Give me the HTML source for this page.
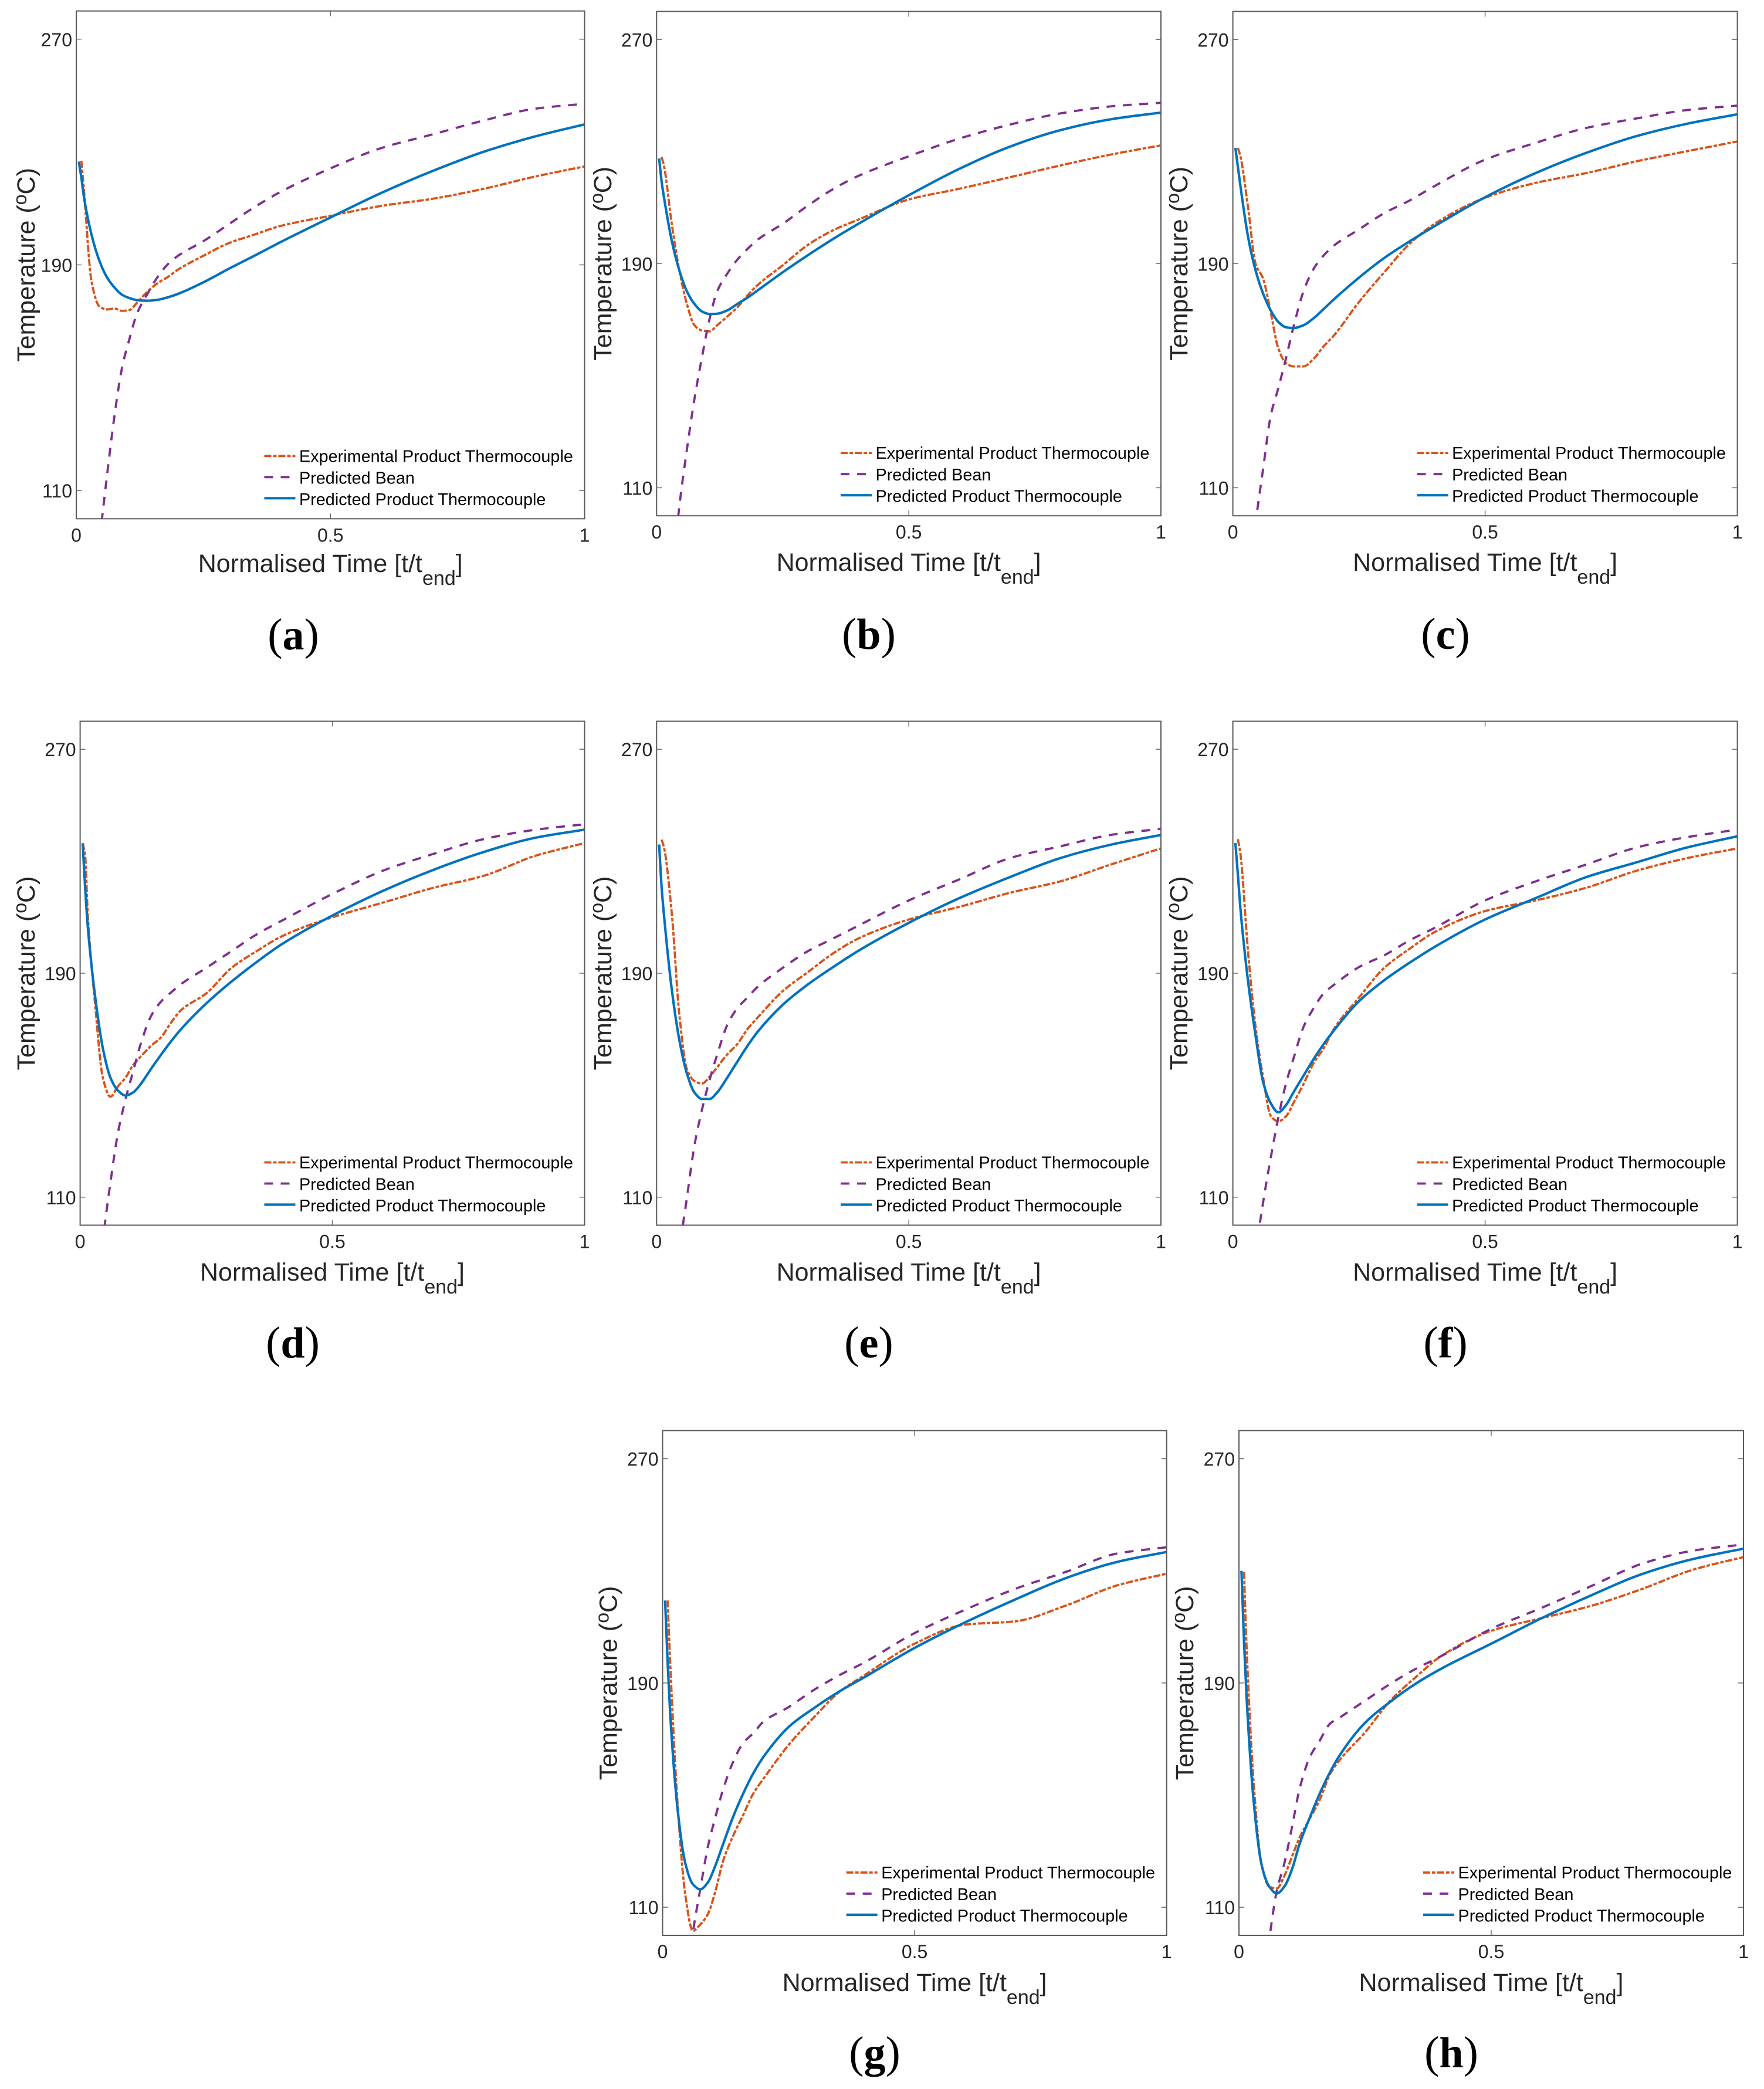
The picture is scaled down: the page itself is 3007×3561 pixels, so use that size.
<!DOCTYPE html>
<html lang="en">
<head>
<meta charset="utf-8">
<title>Temperature profiles, panels a to h</title>
<style>
html,body{margin:0;padding:0;background:#fff;}
svg{display:block;}
text{font-family:"Liberation Sans",Arial,sans-serif;}
.axis-title{font-size:43px;fill:#262626;text-anchor:middle;}
.legend-text{font-size:28.8px;fill:#000;}
.tick-label{font-size:32px;fill:#262626;}
.caption{font-family:"Liberation Serif",serif;font-size:76px;fill:#000;text-anchor:middle;}
.caption tspan.letter{font-weight:bold;font-size:74px;}
</style>
</head>
<body>
<svg id="figure" xmlns="http://www.w3.org/2000/svg" width="3007" height="3561" viewBox="0 0 3007 3561">
<defs id="clips"></defs>

<g id="panel-a">
<text class="axis-title" x="563.2" y="975">Normalised Time [t/t<tspan dy="22" font-size="34">end</tspan><tspan dy="-22">]</tspan></text>
<text class="axis-title" transform="translate(59,451.5) rotate(-90)">Temperature (<tspan dy="-14" font-size="32">o</tspan><tspan dy="14">C)</tspan></text>
<text class="legend-text" x="510" y="787.3">Experimental Product Thermocouple</text>
<text class="legend-text" x="510" y="824.3">Predicted Bean</text>
<text class="legend-text" x="510" y="860.8">Predicted Product Thermocouple</text>
<text class="caption" x="500" y="1107">(<tspan class="letter">a</tspan>)</text>
</g>

<g id="panel-b">
<text class="axis-title" x="1549.1" y="973">Normalised Time [t/t<tspan dy="22" font-size="34">end</tspan><tspan dy="-22">]</tspan></text>
<text class="axis-title" transform="translate(1041.8,449.3) rotate(-90)">Temperature (<tspan dy="-14" font-size="32">o</tspan><tspan dy="14">C)</tspan></text>
<text class="legend-text" x="1492.5" y="782.2">Experimental Product Thermocouple</text>
<text class="legend-text" x="1492.5" y="819.2">Predicted Bean</text>
<text class="legend-text" x="1492.5" y="855.7">Predicted Product Thermocouple</text>
<text class="caption" x="1481" y="1106">(<tspan class="letter">b</tspan>)</text>
</g>

<g id="panel-c">
<text class="axis-title" x="2531.6" y="973">Normalised Time [t/t<tspan dy="22" font-size="34">end</tspan><tspan dy="-22">]</tspan></text>
<text class="axis-title" transform="translate(2024,449.3) rotate(-90)">Temperature (<tspan dy="-14" font-size="32">o</tspan><tspan dy="14">C)</tspan></text>
<text class="legend-text" x="2475.1" y="782.2">Experimental Product Thermocouple</text>
<text class="legend-text" x="2475.1" y="819.2">Predicted Bean</text>
<text class="legend-text" x="2475.1" y="855.7">Predicted Product Thermocouple</text>
<text class="caption" x="2464" y="1106">(<tspan class="letter">c</tspan>)</text>
</g>

<g id="panel-d">
<text class="axis-title" x="566.5" y="2183">Normalised Time [t/t<tspan dy="22" font-size="34">end</tspan><tspan dy="-22">]</tspan></text>
<text class="axis-title" transform="translate(59,1659) rotate(-90)">Temperature (<tspan dy="-14" font-size="32">o</tspan><tspan dy="14">C)</tspan></text>
<text class="legend-text" x="510" y="1991.5">Experimental Product Thermocouple</text>
<text class="legend-text" x="510" y="2028.5">Predicted Bean</text>
<text class="legend-text" x="510" y="2065">Predicted Product Thermocouple</text>
<text class="caption" x="499" y="2314">(<tspan class="letter">d</tspan>)</text>
</g>

<g id="panel-e">
<text class="axis-title" x="1549.1" y="2183">Normalised Time [t/t<tspan dy="22" font-size="34">end</tspan><tspan dy="-22">]</tspan></text>
<text class="axis-title" transform="translate(1041.8,1659) rotate(-90)">Temperature (<tspan dy="-14" font-size="32">o</tspan><tspan dy="14">C)</tspan></text>
<text class="legend-text" x="1492.5" y="1991.5">Experimental Product Thermocouple</text>
<text class="legend-text" x="1492.5" y="2028.5">Predicted Bean</text>
<text class="legend-text" x="1492.5" y="2065">Predicted Product Thermocouple</text>
<text class="caption" x="1481" y="2314">(<tspan class="letter">e</tspan>)</text>
</g>

<g id="panel-f">
<text class="axis-title" x="2531.6" y="2183">Normalised Time [t/t<tspan dy="22" font-size="34">end</tspan><tspan dy="-22">]</tspan></text>
<text class="axis-title" transform="translate(2024,1659) rotate(-90)">Temperature (<tspan dy="-14" font-size="32">o</tspan><tspan dy="14">C)</tspan></text>
<text class="legend-text" x="2475.1" y="1991.5">Experimental Product Thermocouple</text>
<text class="legend-text" x="2475.1" y="2028.5">Predicted Bean</text>
<text class="legend-text" x="2475.1" y="2065">Predicted Product Thermocouple</text>
<text class="caption" x="2464" y="2314">(<tspan class="letter">f</tspan>)</text>
</g>

<g id="panel-g">
<text class="axis-title" x="1559.1" y="3394">Normalised Time [t/t<tspan dy="22" font-size="34">end</tspan><tspan dy="-22">]</tspan></text>
<text class="axis-title" transform="translate(1051.5,2869) rotate(-90)">Temperature (<tspan dy="-14" font-size="32">o</tspan><tspan dy="14">C)</tspan></text>
<text class="legend-text" x="1502.2" y="3202">Experimental Product Thermocouple</text>
<text class="legend-text" x="1502.2" y="3239">Predicted Bean</text>
<text class="legend-text" x="1502.2" y="3275.5">Predicted Product Thermocouple</text>
<text class="caption" x="1491" y="3524">(<tspan class="letter">g</tspan>)</text>
</g>

<g id="panel-h">
<text class="axis-title" x="2542" y="3394">Normalised Time [t/t<tspan dy="22" font-size="34">end</tspan><tspan dy="-22">]</tspan></text>
<text class="axis-title" transform="translate(2034,2869) rotate(-90)">Temperature (<tspan dy="-14" font-size="32">o</tspan><tspan dy="14">C)</tspan></text>
<text class="legend-text" x="2485.5" y="3202">Experimental Product Thermocouple</text>
<text class="legend-text" x="2485.5" y="3239">Predicted Bean</text>
<text class="legend-text" x="2485.5" y="3275.5">Predicted Product Thermocouple</text>
<text class="caption" x="2474" y="3524">(<tspan class="letter">h</tspan>)</text>
</g>
</svg>

<script>
// ---- chart data: normalised time grid, tick labels, temperature series (deg C) ----
const timeGrid = [.005,.01,.015,.03,.045,.06,.075,.09,.105,.12,.14,.16,.18,.2,.25,.3,.35,.4,.5,.6,.7,.8,.9,1];
const xTickValues = [0, 0.5, 1];
const xTickLabels = ["0", "0.5", "1"];
const yTickValues = [110, 190, 270];
const yTickLabels = ["110", "190", "270"];
const xDomain = [0, 1];
const yDomain = [100, 280];

const expA = [null,226.9,216.7,184.2,175.4,174.2,174.5,173.7,174,176.7,180.5,183.5,185.7,188.3,193.2,197.7,200.7,203.7,207.4,210.9,213.4,216.9,221.2,224.9];
const beanA = [null,null,null,70,91.4,114.6,136.3,153.5,164,173,179.7,185.7,190.2,193.2,198.4,204.4,210.4,215.7,224.2,231.4,236.2,241.1,245.3,247.1];
const fitA = [226.6,220.9,214.2,200.7,191.7,185.7,182,179.4,178.2,177.5,177.3,177.6,178.5,179.7,183.8,188.6,193.2,197.9,206.8,215.5,223.2,230,235.4,239.8];

const expB = [null,228,224.5,204.2,187.6,175.6,168,166.1,165.8,168,171.1,174.4,178.6,182.3,189.4,196.7,201.9,205.7,212.9,216.7,220.8,225,228.9,232.2];
const beanB = [null,null,null,76.2,103.3,123.6,141.7,156.7,170.3,180.1,186.4,191.4,195.2,198.5,204.2,210.7,216.6,221.3,228.3,234.6,239.6,243.6,246.1,247.4];
const fitB = [227.5,219.2,213.2,198.2,187.6,180.1,175.6,172.9,172,172.1,173.3,175.6,177.8,180.4,186.9,193,198.8,204.2,214.4,223.8,231.7,237.6,241.5,243.9];

const expC = [null,231.3,228.3,210.2,189.9,184.6,172.6,159.8,154.5,153.3,153.3,156,160.5,164.3,176.3,186.9,197,204.2,213.5,218.8,222.3,226.5,230.1,233.6];
const beanC = [null,null,null,73,97.3,116.8,135.7,145.5,156,167.3,180.1,188.1,192.9,196.4,202.2,208,212.5,217.7,227.1,233.1,238.4,241.8,244.8,246.4];
const fitC = [231.3,224.5,217.7,199.7,187.6,179.3,173.3,169.2,167.3,167,168,170.5,173.8,177.2,185,192,197.9,203.4,213.7,222.3,229.5,235.5,239.9,243.3];

const expD = [236.5,231.8,211.5,178.3,152.7,145.9,149.6,152.7,157.2,160.2,164,167,172.3,176.8,182.8,191.9,197.9,203.2,210,215.2,220.5,224.8,231.8,236.5];
const beanD = [null,null,null,69.7,94.6,115.2,133,145,154.9,164.7,174.5,179.8,183.1,186.1,191.9,197.9,203.9,208.8,218.3,226.6,232.6,237.9,241.2,243.2];
const fitD = [236.4,220.5,207,181.3,163.2,152.7,148.1,146.3,147.4,150.4,155.7,160.8,165.6,170,179.2,187,194,200.4,210.6,219.4,226.9,233.3,238.3,241.3];

const expE = [null,237.7,234.6,211.5,175.3,155.7,151.5,150.6,153,156.4,161,164.7,170,174.1,183.6,190.4,197.1,202.4,209.2,213.7,218.7,222.8,228.8,234.6];
const beanE = [null,null,null,65,90.8,109.7,128.5,141.3,151.9,160.9,171.5,177.5,181.3,185.1,191.9,197.9,202.4,207,216,223.5,231.1,235.3,239.4,241.6];
const fitE = [236,220.5,210,184.3,166.2,154.2,147.4,145.1,145.1,147.4,152.7,158.4,164,169,178.7,186,192.2,198,208,216.8,224.3,231.1,235.9,239.4];

const expF = [null,237.9,232.6,197.9,170.8,152.7,139.1,137.1,138.8,143.6,150.4,157.9,163.2,170,181.3,191.9,198.7,204.7,212.2,216,220.5,226.6,231.1,234.6];
const beanF = [null,null,null,60,89.3,108.2,124,138.3,150.4,159.4,170.8,177.5,182.8,185.8,192.2,196.4,201.7,206.2,216,222.8,228.8,234.9,238.6,241.3];
const fitF = [236.5,225.1,213,187.3,167.7,151.1,143.6,140.3,142.8,147.4,153.4,159.3,164.7,169.5,180,187.5,193.7,199.4,209.2,216.8,224.3,229.6,234.9,238.9];

const expG = [null,219.4,197.3,146,114.4,101.6,103.9,107.6,115.9,126.5,135.5,143,150.6,155.8,167.9,177.7,186.7,192.7,204,210.8,212,217.6,224.7,229];
const beanG = [null,null,null,null,79,100.9,116.7,131.7,142.3,152,161.9,168.6,172.1,176.2,181.4,187.5,192.7,197.3,207.8,216.1,223.6,229.6,236.1,238.4];
const fitG = [219.4,197.3,179.2,144.5,125.7,118.2,116.4,118.9,125,132.5,142.3,150.6,157.8,163.6,174.3,181,186.9,192,202.5,211.6,219.8,227.4,233.1,236.7];

const expH = [null,229.6,203.3,152.1,125,117.4,116.7,121.2,128,134.8,141.5,148.3,157.3,162.6,172.4,183.7,192,199.5,208.6,213.1,217.6,223.6,230.4,234.9];
const beanH = [null,null,null,null,78.3,98.6,115.9,125.7,138.5,152.1,163.4,169.4,175.4,177.7,183.7,189.7,195,199.5,209.3,216.8,224.7,232.6,237.2,239.4];
const fitH = [230,204.8,185.2,146.1,125,117.4,114.9,117.4,123.5,132.5,141.8,150.5,158,164.3,175.8,183.3,189.7,195,204,213.1,221.4,228.9,234.2,237.9];

const panelSeries = {
  a: {exp: expA, bean: beanA, fit: fitA},
  b: {exp: expB, bean: beanB, fit: fitB},
  c: {exp: expC, bean: beanC, fit: fitC},
  d: {exp: expD, bean: beanD, fit: fitD},
  e: {exp: expE, bean: beanE, fit: fitE},
  f: {exp: expF, bean: beanF, fit: fitF},
  g: {exp: expG, bean: beanG, fit: fitG},
  h: {exp: expH, bean: beanH, fit: fitH}
};

// ---- layout (separate from the data) ----
const frames = {
  a: {l:130,    r:996.5,  t:18.7,   b:884.3},
  b: {l:1119.3, r:1979,   t:19.5,   b:879.2},
  c: {l:2101.6, r:2961.6, t:19.5,   b:879.2},
  d: {l:136.6,  r:996.5,  t:1229.5, b:2088.5},
  e: {l:1119.3, r:1979,   t:1229.5, b:2088.5},
  f: {l:2101.6, r:2961.6, t:1229.5, b:2088.5},
  g: {l:1129.5, r:1988.7, t:2438.7, b:3299},
  h: {l:2112,   r:2972,   t:2438.7, b:3299}
};
const styles = {
  exp:  {color:"#D95319", dash:"12 3 6 3", width:3.8},
  bean: {color:"#7E2F8E", dash:"15 13",    width:3.8},
  fit:  {color:"#0072BD", dash:"",         width:4.2}
};
const NS = "http://www.w3.org/2000/svg";
const TICK_LEN = 9;

function make(tag, attrs, parent) {
  const el = document.createElementNS(NS, tag);
  for (const k in attrs) el.setAttribute(k, attrs[k]);
  parent.appendChild(el);
  return el;
}

// monotone cubic path through screen points
function monotonePath(xs, ys) {
  const n = xs.length, d = [], m = [];
  for (let i = 0; i < n - 1; i++) d.push((ys[i+1]-ys[i])/(xs[i+1]-xs[i]));
  m[0] = d[0];
  m[n-1] = d[n-2];
  for (let i = 1; i < n - 1; i++) {
    if (d[i-1]*d[i] <= 0) { m[i] = 0; continue; }
    const h0 = xs[i]-xs[i-1], h1 = xs[i+1]-xs[i];
    const w1 = 2*h1+h0, w2 = h1+2*h0;
    m[i] = (w1+w2)/(w1/d[i-1]+w2/d[i]);
  }
  let s = "M" + xs[0].toFixed(1) + " " + ys[0].toFixed(1);
  for (let i = 0; i < n - 1; i++) {
    const h = (xs[i+1]-xs[i])/3;
    s += "C" + (xs[i]+h).toFixed(1) + " " + (ys[i]+m[i]*h).toFixed(1) + " " +
         (xs[i+1]-h).toFixed(1) + " " + (ys[i+1]-m[i+1]*h).toFixed(1) + " " +
         xs[i+1].toFixed(1) + " " + ys[i+1].toFixed(1);
  }
  return s;
}

function drawPanel(key) {
  const f = frames[key];
  const group = document.getElementById("panel-" + key);
  const xScale = v => f.l + (v - xDomain[0]) / (xDomain[1] - xDomain[0]) * (f.r - f.l);
  const yScale = v => f.b - (v - yDomain[0]) / (yDomain[1] - yDomain[0]) * (f.b - f.t);

  const clip = make("clipPath", {id: "clip-" + key}, document.getElementById("clips"));
  make("rect", {x: f.l, y: f.t, width: f.r - f.l, height: f.b - f.t}, clip);

  // ticks and tick labels
  xTickValues.forEach((v, i) => {
    const x = xScale(v);
    const low = make("line", {x1:x, x2:x, y1:f.b, y2:f.b - TICK_LEN, stroke:"#707070", "stroke-width":1.5}, group);
    
    
    const high = make("line", {x1:x, x2:x, y1:f.t, y2:f.t + TICK_LEN, stroke:"#707070", "stroke-width":1.5}, group);
    
    
    const label = make("text", {class:"tick-label", x:x, y:f.b + 39, "text-anchor":"middle"}, group);
    
    
    label.textContent = xTickLabels[i];
  });
  yTickValues.forEach((v, i) => {
    const y = yScale(v);
    const left = make("line", {x1:f.l, x2:f.l + TICK_LEN, y1:y, y2:y, stroke:"#707070", "stroke-width":1.5}, group);
    
    
    const right = make("line", {x1:f.r, x2:f.r - TICK_LEN, y1:y, y2:y, stroke:"#707070", "stroke-width":1.5}, group);
    
    
    const label = make("text", {class:"tick-label", x:f.l - 7, y:y + 12, "text-anchor":"end"}, group);
    
    
    label.textContent = yTickLabels[i];
  });

  // series
  ["exp", "bean", "fit"].forEach(name => {
    const values = panelSeries[key][name];
    const xs = [], ys = [];
    values.forEach((v, i) => {
      if (v === null) return;
      xs.push(xScale(timeGrid[i]));
      ys.push(yScale(v));
    });
    const st = styles[name];
    const path = make("path", {d: monotonePath(xs, ys), fill:"none", stroke:st.color,
      "stroke-width":st.width, "stroke-dasharray":st.dash, "stroke-linejoin":"round",
      "clip-path":"url(#clip-" + key + ")"}, group);
    
    
  });

  // frame
  const frame = make("rect", {x:f.l, y:f.t, width:f.r - f.l, height:f.b - f.t, fill:"none", stroke:"#5a5a5a", "stroke-width":2}, group);
  
  

  // legend keys
  ["exp", "bean", "fit"].forEach((name, i) => {
    const st = styles[name];
    const yy = f.b - 107 + i * 36;
    const key_line = make("line", {x1:f.r - 546, x2:f.r - 493, y1:yy, y2:yy, stroke:st.color,
      "stroke-width":st.width, "stroke-dasharray":st.dash}, group);
    
    
  });
}

Object.keys(frames).forEach(drawPanel);
</script>
</body>
</html>
